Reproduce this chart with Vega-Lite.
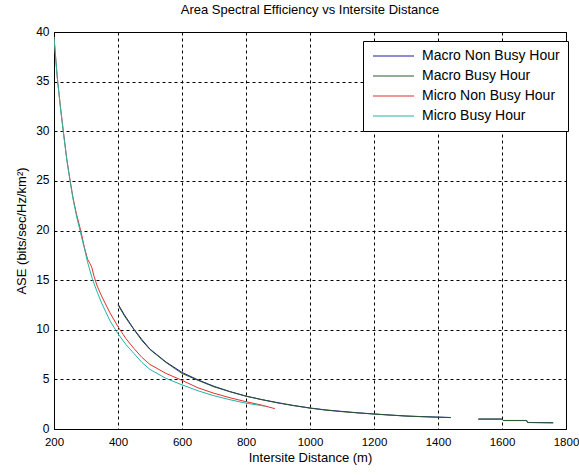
{
  "$schema": "https://vega.github.io/schema/vega-lite/v6.json",
  "width": 512,
  "height": 397,
  "autosize": {"type": "none"},
  "padding": {"left": 54, "top": 32, "right": 13, "bottom": 46},
  "background": "white",
  "title": {"text": "Area Spectral Efficiency vs Intersite Distance", "font": "Liberation Sans", "fontSize": 13, "fontWeight": "normal", "color": "black", "anchor": "middle", "offset": 8},
  "config": {"view": {"stroke": "black", "strokeWidth": 1}, "font": "Liberation Sans"},
  "data": {"values": [
    {"s": "Macro Non Busy Hour", "seg": 1, "d": 400, "ase": 12.6},
    {"s": "Macro Non Busy Hour", "seg": 1, "d": 420, "ase": 11.5},
    {"s": "Macro Non Busy Hour", "seg": 1, "d": 450, "ase": 10.05},
    {"s": "Macro Non Busy Hour", "seg": 1, "d": 475, "ase": 9.0},
    {"s": "Macro Non Busy Hour", "seg": 1, "d": 500, "ase": 8.05},
    {"s": "Macro Non Busy Hour", "seg": 1, "d": 550, "ase": 6.75},
    {"s": "Macro Non Busy Hour", "seg": 1, "d": 600, "ase": 5.7},
    {"s": "Macro Non Busy Hour", "seg": 1, "d": 650, "ase": 4.95},
    {"s": "Macro Non Busy Hour", "seg": 1, "d": 700, "ase": 4.3},
    {"s": "Macro Non Busy Hour", "seg": 1, "d": 750, "ase": 3.77},
    {"s": "Macro Non Busy Hour", "seg": 1, "d": 800, "ase": 3.32},
    {"s": "Macro Non Busy Hour", "seg": 1, "d": 850, "ase": 2.96},
    {"s": "Macro Non Busy Hour", "seg": 1, "d": 900, "ase": 2.65},
    {"s": "Macro Non Busy Hour", "seg": 1, "d": 950, "ase": 2.36},
    {"s": "Macro Non Busy Hour", "seg": 1, "d": 1000, "ase": 2.12},
    {"s": "Macro Non Busy Hour", "seg": 1, "d": 1050, "ase": 1.92},
    {"s": "Macro Non Busy Hour", "seg": 1, "d": 1100, "ase": 1.77},
    {"s": "Macro Non Busy Hour", "seg": 1, "d": 1150, "ase": 1.63},
    {"s": "Macro Non Busy Hour", "seg": 1, "d": 1200, "ase": 1.52},
    {"s": "Macro Non Busy Hour", "seg": 1, "d": 1250, "ase": 1.41},
    {"s": "Macro Non Busy Hour", "seg": 1, "d": 1300, "ase": 1.31},
    {"s": "Macro Non Busy Hour", "seg": 1, "d": 1350, "ase": 1.25},
    {"s": "Macro Non Busy Hour", "seg": 1, "d": 1400, "ase": 1.2},
    {"s": "Macro Non Busy Hour", "seg": 1, "d": 1440, "ase": 1.16},
    {"s": "Macro Non Busy Hour", "seg": 2, "d": 1526, "ase": 1.0},
    {"s": "Macro Non Busy Hour", "seg": 2, "d": 1600, "ase": 1.0},
    {"s": "Macro Non Busy Hour", "seg": 2, "d": 1604, "ase": 0.86},
    {"s": "Macro Non Busy Hour", "seg": 2, "d": 1677, "ase": 0.86},
    {"s": "Macro Non Busy Hour", "seg": 2, "d": 1680, "ase": 0.66},
    {"s": "Macro Non Busy Hour", "seg": 2, "d": 1760, "ase": 0.63},

    {"s": "Macro Busy Hour", "seg": 1, "d": 400, "ase": 12.5},
    {"s": "Macro Busy Hour", "seg": 1, "d": 420, "ase": 11.4},
    {"s": "Macro Busy Hour", "seg": 1, "d": 450, "ase": 10.0},
    {"s": "Macro Busy Hour", "seg": 1, "d": 475, "ase": 8.9},
    {"s": "Macro Busy Hour", "seg": 1, "d": 500, "ase": 8.0},
    {"s": "Macro Busy Hour", "seg": 1, "d": 550, "ase": 6.7},
    {"s": "Macro Busy Hour", "seg": 1, "d": 600, "ase": 5.6},
    {"s": "Macro Busy Hour", "seg": 1, "d": 650, "ase": 4.9},
    {"s": "Macro Busy Hour", "seg": 1, "d": 700, "ase": 4.25},
    {"s": "Macro Busy Hour", "seg": 1, "d": 750, "ase": 3.75},
    {"s": "Macro Busy Hour", "seg": 1, "d": 800, "ase": 3.3},
    {"s": "Macro Busy Hour", "seg": 1, "d": 850, "ase": 2.95},
    {"s": "Macro Busy Hour", "seg": 1, "d": 900, "ase": 2.62},
    {"s": "Macro Busy Hour", "seg": 1, "d": 950, "ase": 2.35},
    {"s": "Macro Busy Hour", "seg": 1, "d": 1000, "ase": 2.1},
    {"s": "Macro Busy Hour", "seg": 1, "d": 1050, "ase": 1.9},
    {"s": "Macro Busy Hour", "seg": 1, "d": 1100, "ase": 1.75},
    {"s": "Macro Busy Hour", "seg": 1, "d": 1150, "ase": 1.62},
    {"s": "Macro Busy Hour", "seg": 1, "d": 1200, "ase": 1.5},
    {"s": "Macro Busy Hour", "seg": 1, "d": 1250, "ase": 1.4},
    {"s": "Macro Busy Hour", "seg": 1, "d": 1300, "ase": 1.3},
    {"s": "Macro Busy Hour", "seg": 1, "d": 1350, "ase": 1.24},
    {"s": "Macro Busy Hour", "seg": 1, "d": 1400, "ase": 1.18},
    {"s": "Macro Busy Hour", "seg": 1, "d": 1440, "ase": 1.15},
    {"s": "Macro Busy Hour", "seg": 2, "d": 1526, "ase": 1.0},
    {"s": "Macro Busy Hour", "seg": 2, "d": 1600, "ase": 1.0},
    {"s": "Macro Busy Hour", "seg": 2, "d": 1604, "ase": 0.85},
    {"s": "Macro Busy Hour", "seg": 2, "d": 1677, "ase": 0.85},
    {"s": "Macro Busy Hour", "seg": 2, "d": 1680, "ase": 0.65},
    {"s": "Macro Busy Hour", "seg": 2, "d": 1760, "ase": 0.62},

    {"s": "Micro Non Busy Hour", "seg": 1, "d": 200, "ase": 39.5},
    {"s": "Micro Non Busy Hour", "seg": 1, "d": 205, "ase": 37.5},
    {"s": "Micro Non Busy Hour", "seg": 1, "d": 210, "ase": 35.5},
    {"s": "Micro Non Busy Hour", "seg": 1, "d": 220, "ase": 32.5},
    {"s": "Micro Non Busy Hour", "seg": 1, "d": 230, "ase": 29.8},
    {"s": "Micro Non Busy Hour", "seg": 1, "d": 240, "ase": 27.2},
    {"s": "Micro Non Busy Hour", "seg": 1, "d": 250, "ase": 25.1},
    {"s": "Micro Non Busy Hour", "seg": 1, "d": 260, "ase": 23.2},
    {"s": "Micro Non Busy Hour", "seg": 1, "d": 270, "ase": 21.7},
    {"s": "Micro Non Busy Hour", "seg": 1, "d": 285, "ase": 19.8},
    {"s": "Micro Non Busy Hour", "seg": 1, "d": 295, "ase": 18.3},
    {"s": "Micro Non Busy Hour", "seg": 1, "d": 305, "ase": 17.1},
    {"s": "Micro Non Busy Hour", "seg": 1, "d": 312, "ase": 16.7},
    {"s": "Micro Non Busy Hour", "seg": 1, "d": 318, "ase": 16.3},
    {"s": "Micro Non Busy Hour", "seg": 1, "d": 325, "ase": 15.4},
    {"s": "Micro Non Busy Hour", "seg": 1, "d": 335, "ase": 14.4},
    {"s": "Micro Non Busy Hour", "seg": 1, "d": 350, "ase": 13.3},
    {"s": "Micro Non Busy Hour", "seg": 1, "d": 375, "ase": 11.7},
    {"s": "Micro Non Busy Hour", "seg": 1, "d": 400, "ase": 10.3},
    {"s": "Micro Non Busy Hour", "seg": 1, "d": 425, "ase": 9.1},
    {"s": "Micro Non Busy Hour", "seg": 1, "d": 450, "ase": 8.1},
    {"s": "Micro Non Busy Hour", "seg": 1, "d": 475, "ase": 7.2},
    {"s": "Micro Non Busy Hour", "seg": 1, "d": 500, "ase": 6.5},
    {"s": "Micro Non Busy Hour", "seg": 1, "d": 550, "ase": 5.6},
    {"s": "Micro Non Busy Hour", "seg": 1, "d": 600, "ase": 4.9},
    {"s": "Micro Non Busy Hour", "seg": 1, "d": 650, "ase": 4.15},
    {"s": "Micro Non Busy Hour", "seg": 1, "d": 700, "ase": 3.6},
    {"s": "Micro Non Busy Hour", "seg": 1, "d": 750, "ase": 3.15},
    {"s": "Micro Non Busy Hour", "seg": 1, "d": 800, "ase": 2.75},
    {"s": "Micro Non Busy Hour", "seg": 1, "d": 850, "ase": 2.4},
    {"s": "Micro Non Busy Hour", "seg": 1, "d": 890, "ase": 2.05},

    {"s": "Micro Busy Hour", "seg": 1, "d": 200, "ase": 39.5},
    {"s": "Micro Busy Hour", "seg": 1, "d": 205, "ase": 37.5},
    {"s": "Micro Busy Hour", "seg": 1, "d": 210, "ase": 35.5},
    {"s": "Micro Busy Hour", "seg": 1, "d": 220, "ase": 32.4},
    {"s": "Micro Busy Hour", "seg": 1, "d": 230, "ase": 29.7},
    {"s": "Micro Busy Hour", "seg": 1, "d": 240, "ase": 27.1},
    {"s": "Micro Busy Hour", "seg": 1, "d": 250, "ase": 25.0},
    {"s": "Micro Busy Hour", "seg": 1, "d": 260, "ase": 23.1},
    {"s": "Micro Busy Hour", "seg": 1, "d": 270, "ase": 21.5},
    {"s": "Micro Busy Hour", "seg": 1, "d": 285, "ase": 19.5},
    {"s": "Micro Busy Hour", "seg": 1, "d": 295, "ase": 18.2},
    {"s": "Micro Busy Hour", "seg": 1, "d": 305, "ase": 16.8},
    {"s": "Micro Busy Hour", "seg": 1, "d": 320, "ase": 15.1},
    {"s": "Micro Busy Hour", "seg": 1, "d": 335, "ase": 13.8},
    {"s": "Micro Busy Hour", "seg": 1, "d": 350, "ase": 12.6},
    {"s": "Micro Busy Hour", "seg": 1, "d": 375, "ase": 10.9},
    {"s": "Micro Busy Hour", "seg": 1, "d": 400, "ase": 9.6},
    {"s": "Micro Busy Hour", "seg": 1, "d": 425, "ase": 8.5},
    {"s": "Micro Busy Hour", "seg": 1, "d": 450, "ase": 7.6},
    {"s": "Micro Busy Hour", "seg": 1, "d": 475, "ase": 6.7},
    {"s": "Micro Busy Hour", "seg": 1, "d": 500, "ase": 6.0},
    {"s": "Micro Busy Hour", "seg": 1, "d": 550, "ase": 5.1},
    {"s": "Micro Busy Hour", "seg": 1, "d": 600, "ase": 4.45},
    {"s": "Micro Busy Hour", "seg": 1, "d": 650, "ase": 3.85},
    {"s": "Micro Busy Hour", "seg": 1, "d": 700, "ase": 3.35},
    {"s": "Micro Busy Hour", "seg": 1, "d": 750, "ase": 2.95},
    {"s": "Micro Busy Hour", "seg": 1, "d": 800, "ase": 2.6},
    {"s": "Micro Busy Hour", "seg": 1, "d": 860, "ase": 2.3}
  ]},
  "mark": {"type": "line", "strokeWidth": 1, "clip": true},
  "encoding": {
    "x": {
      "field": "d", "type": "quantitative",
      "scale": {"domain": [200, 1800], "nice": false, "zero": false},
      "axis": {
        "values": [200, 400, 600, 800, 1000, 1200, 1400, 1600, 1800],
        "format": "d",
        "title": "Intersite Distance (m)",
        "grid": true, "gridColor": "black", "gridOpacity": 1, "gridDash": [3, 3], "gridWidth": 1,
        "domain": false, "ticks": false,
        "labelPadding": 7, "labelFontSize": 11.5, "labelColor": "black", "labelFlush": false,
        "titleFontSize": 13, "titleFontWeight": "normal", "titleColor": "black", "titlePadding": 4
      }
    },
    "y": {
      "field": "ase", "type": "quantitative",
      "scale": {"domain": [0, 40], "nice": false},
      "axis": {
        "values": [0, 5, 10, 15, 20, 25, 30, 35, 40],
        "title": "ASE (bits/sec/Hz/km²)",
        "grid": true, "gridColor": "black", "gridOpacity": 1, "gridDash": [3, 3], "gridWidth": 1,
        "domain": false, "ticks": false,
        "labelPadding": 5, "labelFontSize": 12, "labelColor": "black", "labelFlush": false, "labelOffset": -1,
        "titleFontSize": 13, "titleFontWeight": "normal", "titleColor": "black", "titlePadding": 7
      }
    },
    "color": {
      "field": "s", "type": "nominal",
      "scale": {
        "domain": ["Macro Non Busy Hour", "Macro Busy Hour", "Micro Non Busy Hour", "Micro Busy Hour"],
        "range": ["#1c1c9c", "#2d5a2d", "#e0302a", "#26b3a6"]
      },
      "legend": {
        "orient": "none", "legendX": 309, "legendY": 9,
        "title": null,
        "strokeColor": "black", "fillColor": "white",
        "padding": 8,
        "symbolType": "M-1,0H7.2", "symbolSize": 100, "symbolStrokeWidth": 1.2,
        "labelFontSize": 14, "labelColor": "black", "labelOffset": 37, "labelLimit": 300,
        "rowPadding": 6
      }
    },
    "detail": {"field": "seg"}
  }
}
